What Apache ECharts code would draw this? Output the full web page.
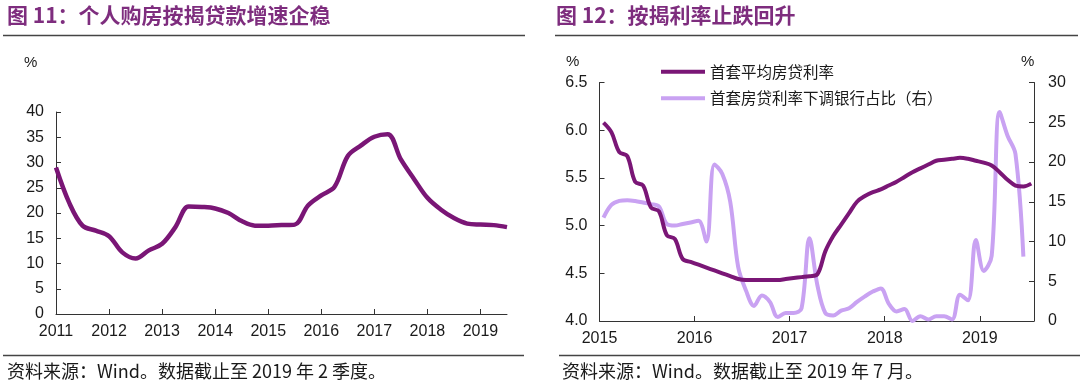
<!DOCTYPE html>
<html><head><meta charset="utf-8">
<script src="https://cdn.jsdelivr.net/npm/echarts@6/dist/echarts.min.js"></script>
<style>html,body{margin:0;padding:0;background:#fff}#c{width:1080px;height:391px}</style>
</head><body><div id="c"></div>
<script>
// ---- text ----
const leftTitle = '图 11：个人购房按揭贷款增速企稳';
const rightTitle = '图 12：按揭利率止跌回升';
const leftSource = '资料来源：Wind。数据截止至 2019 年 2 季度。';
const rightSource = '资料来源：Wind。数据截止至 2019 年 7 月。';
const legendNames = ['首套平均房贷利率', '首套房贷利率下调银行占比（右）'];
const unitLabel = '%';

// ---- left chart: quarterly growth of personal housing loans (%) ----
const leftQuarters = [
  '2010Q4','2011Q1','2011Q2','2011Q3','2011Q4','2012Q1','2012Q2','2012Q3','2012Q4',
  '2013Q1','2013Q2','2013Q3','2013Q4','2014Q1','2014Q2','2014Q3','2014Q4',
  '2015Q1','2015Q2','2015Q3','2015Q4','2016Q1','2016Q2','2016Q3','2016Q4',
  '2017Q1','2017Q2','2017Q3','2017Q4','2018Q1','2018Q2','2018Q3','2018Q4',
  '2019Q1','2019Q2'
];
const leftGrowth = [
  29.0, 22.0, 17.5, 16.5, 15.4, 12.2, 11.0, 12.6, 13.9,
  17.2, 21.3, 21.2, 20.9, 20.0, 18.4, 17.5, 17.5,
  17.6, 17.7, 21.5, 23.5, 25.2, 31.3, 33.4, 35.1,
  35.6, 30.6, 26.7, 23.0, 20.7, 19.0, 17.9, 17.7,
  17.6, 17.2
];

// ---- right chart: monthly mortgage rate (%) and share of banks cutting (%) ----
const rightMonths = [
  '2015-01','2015-02','2015-03','2015-04','2015-05','2015-06','2015-07','2015-08','2015-09','2015-10','2015-11','2015-12',
  '2016-01','2016-02','2016-03','2016-04','2016-05','2016-06','2016-07','2016-08','2016-09','2016-10','2016-11','2016-12',
  '2017-01','2017-02','2017-03','2017-04','2017-05','2017-06','2017-07','2017-08','2017-09','2017-10','2017-11','2017-12',
  '2018-01','2018-02','2018-03','2018-04','2018-05','2018-06','2018-07','2018-08','2018-09','2018-10','2018-11','2018-12',
  '2019-01','2019-02','2019-03','2019-04','2019-05','2019-06','2019-07'
];
const avgRate = [
  6.08, 5.98, 5.77, 5.73, 5.46, 5.42, 5.19, 5.15, 4.90, 4.86, 4.65, 4.62,
  4.59, 4.56, 4.53, 4.50, 4.47, 4.44, 4.43, 4.43, 4.43, 4.43, 4.43, 4.44,
  4.45, 4.46, 4.47, 4.49, 4.73, 4.89, 5.01, 5.13, 5.25, 5.31, 5.35, 5.38,
  5.42, 5.46, 5.51, 5.56, 5.60, 5.64, 5.68, 5.69, 5.70, 5.71, 5.70, 5.68,
  5.66, 5.63, 5.56, 5.48, 5.42, 5.41, 5.44
];
const cutShare = [
  13.0, 14.6, 15.1, 15.2, 15.1, 14.9, 14.7, 14.4, 12.2, 12.0, 12.2, 12.4,
  12.6, 10.0, 19.7, 18.5, 15.0, 6.8, 3.8, 1.9, 3.2, 2.4, 0.5, 1.0,
  1.0, 1.6, 10.4, 4.5, 1.0, 0.7, 1.3, 1.6, 2.4, 3.1, 3.7, 4.1,
  2.2, 1.2, 1.5, 0.0, 0.6, 0.2, 0.6, 0.6, 0.2, 3.3, 2.6, 10.2,
  6.3, 8.2, 26.3, 23.3, 21.0, 8.1
];

// ---- helpers mapping period labels to fractional-year positions ----
function quarterPos(s) { return +s.slice(0, 4) + (+s.slice(5)) / 4; }
function monthPos(s) { return +s.slice(0, 4) + (+s.slice(5) - 0.5) / 12; }

const DARK = '#7A1676';
const LIGHT = '#C9A2F2';
const AX = '#333';
const LATIN = '"Liberation Sans", Arial, sans-serif';
const CJK = '"Noto Sans CJK SC", "Noto Sans", sans-serif';

const axisCommon = {
  axisLine: { show: true, lineStyle: { color: AX, width: 1 } },
  axisTick: { show: true, inside: true, length: 5, lineStyle: { color: AX } },
  splitLine: { show: false },
  axisLabel: { color: '#1a1a1a', fontSize: 16, fontFamily: LATIN }
};
function yearLabel(v) { return Number.isInteger(v) ? String(v) : ''; }

const chart = echarts.init(document.getElementById('c'), null, { renderer: 'canvas' });
chart.setOption({
  animation: false,
  backgroundColor: '#fff',
  grid: [
    { left: 56, top: 112, width: 451, height: 202 },
    { left: 599.5, top: 82.5, width: 434.5, height: 238.5 }
  ],
  xAxis: [
    Object.assign({}, axisCommon, {
      gridIndex: 0, type: 'value', min: 2011, max: 2019.5, interval: 1,
      axisLabel: Object.assign({}, axisCommon.axisLabel, { margin: 10, formatter: yearLabel, showMaxLabel: false })
    }),
    Object.assign({}, axisCommon, {
      gridIndex: 1, type: 'value', min: 2015, max: 2019.57, interval: 1,
      axisLabel: Object.assign({}, axisCommon.axisLabel, { margin: 10, formatter: yearLabel, showMaxLabel: false })
    })
  ],
  yAxis: [
    Object.assign({}, axisCommon, {
      gridIndex: 0, type: 'value', min: 0, max: 40, interval: 5,
      axisLabel: Object.assign({}, axisCommon.axisLabel, { margin: 12 })
    }),
    Object.assign({}, axisCommon, {
      gridIndex: 1, type: 'value', min: 4, max: 6.5, interval: 0.5,
      axisLabel: Object.assign({}, axisCommon.axisLabel, { margin: 12, formatter: v => v.toFixed(1) })
    }),
    Object.assign({}, axisCommon, {
      gridIndex: 1, type: 'value', position: 'right', min: 0, max: 30, interval: 5,
      axisLabel: Object.assign({}, axisCommon.axisLabel, { margin: 14 })
    })
  ],
  legend: {
    orient: 'vertical', left: 656, top: 59, itemWidth: 44, itemHeight: 4, itemGap: 11,
    data: legendNames.map(n => ({ name: n, icon: 'rect' })),
    textStyle: { fontFamily: CJK, fontSize: 15.5, color: '#1a1a1a' }
  },
  series: [
    {
      type: 'line', xAxisIndex: 0, yAxisIndex: 0, symbol: 'none', smooth: 0.35,
      data: leftQuarters.map((q, i) => [quarterPos(q), leftGrowth[i]]),
      lineStyle: { color: DARK, width: 4.5 }, itemStyle: { color: DARK }
    },
    {
      name: legendNames[0], type: 'line', xAxisIndex: 1, yAxisIndex: 1, symbol: 'none', smooth: 0.35,
      data: rightMonths.map((m, i) => [monthPos(m), avgRate[i]]),
      lineStyle: { color: DARK, width: 4 }, itemStyle: { color: DARK }, z: 3
    },
    {
      name: legendNames[1], type: 'line', xAxisIndex: 1, yAxisIndex: 2, symbol: 'none', smooth: 0.35,
      data: cutShare.map((v, i) => [monthPos(rightMonths[i]), v]),
      lineStyle: { color: LIGHT, width: 4 }, itemStyle: { color: LIGHT }, z: 2
    }
  ],
  graphic: [
    { type: 'text', left: 7, top: 5, style: { text: leftTitle, font: 'bold 21px ' + CJK, fill: '#7E2D7E' } },
    { type: 'text', left: 556, top: 5, style: { text: rightTitle, font: 'bold 21px ' + CJK, fill: '#7E2D7E' } },
    { type: 'line', shape: { x1: 3, y1: 35.5, x2: 525, y2: 35.5 }, style: { stroke: '#444', lineWidth: 1.5 } },
    { type: 'line', shape: { x1: 555, y1: 35.5, x2: 1078, y2: 35.5 }, style: { stroke: '#444', lineWidth: 1.5 } },
    { type: 'line', shape: { x1: 3, y1: 355.5, x2: 524, y2: 355.5 }, style: { stroke: '#444', lineWidth: 1.5 } },
    { type: 'line', shape: { x1: 559, y1: 355.5, x2: 1080, y2: 355.5 }, style: { stroke: '#444', lineWidth: 1.5 } },
    { type: 'text', left: 7, top: 362, style: { text: leftSource, font: '18px ' + CJK, fill: '#1a1a1a' } },
    { type: 'text', left: 562, top: 362, style: { text: rightSource, font: '18px ' + CJK, fill: '#1a1a1a' } },
    { type: 'text', left: 24, top: 55, style: { text: unitLabel, font: '15px ' + LATIN, fill: '#1a1a1a' } },
    { type: 'text', left: 566, top: 54, style: { text: unitLabel, font: '15px ' + LATIN, fill: '#1a1a1a' } },
    { type: 'text', left: 1021, top: 54, style: { text: unitLabel, font: '15px ' + LATIN, fill: '#1a1a1a' } }
  ]
});
</script>
</body></html>
